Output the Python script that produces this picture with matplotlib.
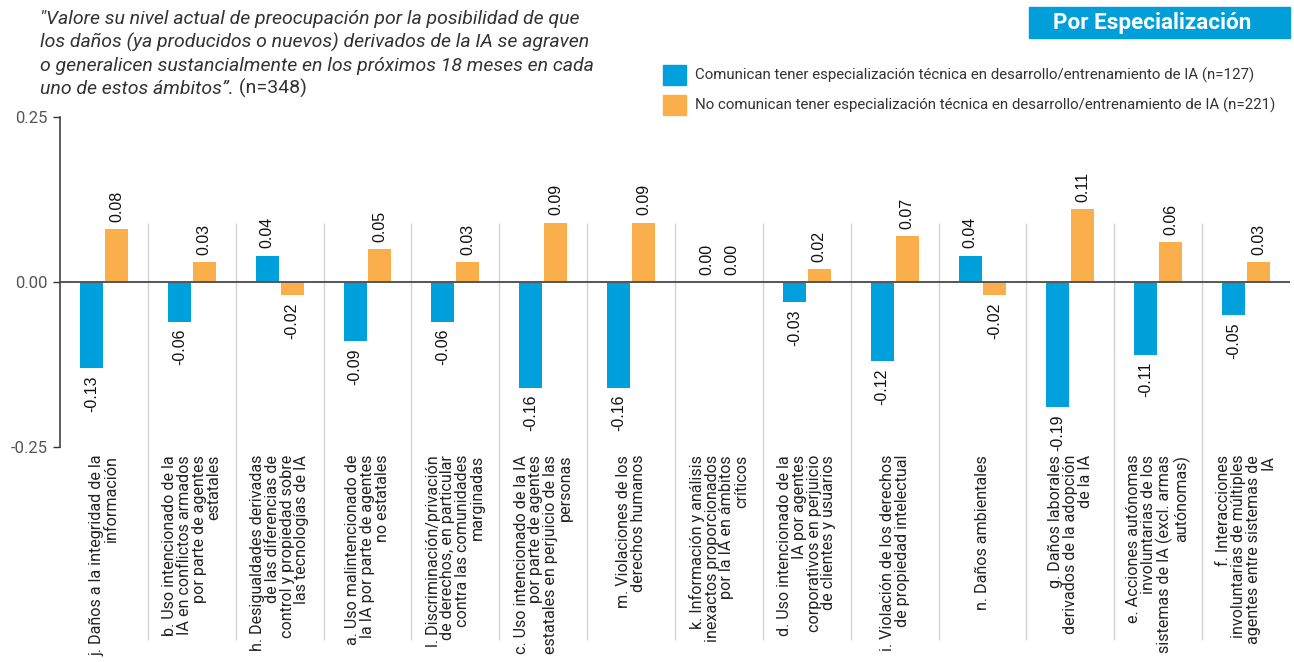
import matplotlib
matplotlib.use("Agg")
import matplotlib.pyplot as plt
import numpy as np

# ---- data ----
categories = [
    "j. Daños a la integridad de la\ninformación",
    "b. Uso intencionado de la\nIA en conflictos armados\npor parte de agentes\nestatales",
    "h. Desigualdades derivadas\nde las diferencias de\ncontrol y propiedad sobre\nlas tecnologías de IA",
    "a. Uso malintencionado de\nla IA por parte de agentes\nno estatales",
    "l. Discriminación/privación\nde derechos, en particular\ncontra las comunidades\nmarginadas",
    "c. Uso intencionado de la IA\npor parte de agentes\nestatales en perjuicio de las\npersonas",
    "m. Violaciones de los\nderechos humanos",
    "k. Información y análisis\ninexactos proporcionados\npor la IA en ámbitos\ncríticos",
    "d. Uso intencionado de la\nIA por agentes\ncorporativos en perjuicio\nde clientes y usuarios",
    "i. Violación de los derechos\nde propiedad intelectual",
    "n. Daños ambientales",
    "g. Daños laborales\nderivados de la adopción\nde la IA",
    "e. Acciones autónomas\ninvoluntarias de los\nsistemas de IA (excl. armas\nautónomas)",
    "f. Interacciones\ninvoluntarias de múltiples\nagentes entre sistemas de\nIA",
]
especialistas = [-0.13, -0.06, 0.04, -0.09, -0.06, -0.16, -0.16, 0.00, -0.03, -0.12, 0.04, -0.19, -0.11, -0.05]
no_especialistas = [0.08, 0.03, -0.02, 0.05, 0.03, 0.09, 0.09, 0.00, 0.02, 0.07, -0.02, 0.11, 0.06, 0.03]
series_names = [
    "Comunican tener especialización técnica en desarrollo/entrenamiento de IA (n=127)",
    "No comunican tener especialización técnica en desarrollo/entrenamiento de IA (n=221)",
]
yticks = [-0.25, 0.0, 0.25]
ytick_labels = ["-0.25", "0.00", "0.25"]

title_lines = [
    "\"Valore su nivel actual de preocupación por la posibilidad de que",
    "los daños (ya producidos o nuevos) derivados de la IA se agraven",
    "o generalicen sustancialmente en los próximos 18 meses en cada",
]
title_last_italic = "uno de estos ámbitos”."
title_last_plain = " (n=348)"
badge_text = "Por Especialización"

# ---- style ----
BLUE = "#00A0DC"
ORANGE = "#FBAF4C"
TEXT = "#333333"
W, H = 1294, 662

plt.rcParams["font.family"] = ["Roboto", "DejaVu Sans"]

fig = plt.figure(figsize=(W / 100, H / 100), dpi=100)
ax_left, ax_right = 60 / W, 1290 / W
ax_top_px, ax_bot_px = 117, 447
ax = fig.add_axes([ax_left, 1 - ax_bot_px / H, ax_right - ax_left, (ax_bot_px - ax_top_px) / H])

n = len(categories)
x = np.arange(n)
bw = 0.262
off = 0.142

ax.set_xlim(-0.5, n - 0.5)
ax.set_ylim(-0.25, 0.25)

# group separators reaching down into the label area
sep_bottom = -0.25 - (640 - ax_bot_px) / (ax_bot_px - ax_top_px) * 0.5
ax.vlines(x[:-1] + 0.5, sep_bottom, 0.09, colors="#d4d4d4", lw=1, clip_on=False, zorder=1)

ax.bar(x - off, especialistas, bw, color=BLUE, zorder=3, label=series_names[0])
ax.bar(x + off, no_especialistas, bw, color=ORANGE, zorder=3, label=series_names[1])
ax.axhline(0, color="#555555", lw=1.4, zorder=4)

# value labels
pad = 0.011
val_font = dict(fontsize=11.5, family=["Liberation Sans", "DejaVu Sans"], color="#111111")
for xs, vals in ((x - off, especialistas), (x + off, no_especialistas)):
    for xi, v in zip(xs, vals):
        if v >= 0:
            ax.text(xi, v + pad, f"{v:.2f}", rotation=90, ha="center", va="bottom", **val_font)
        else:
            ax.text(xi, v - pad, f"{v:.2f}", rotation=90, ha="center", va="top", **val_font)

# category labels
for xi, lab in zip(x, categories):
    ax.text(xi, -0.262, lab, rotation=90, ha="center", va="top", multialignment="right",
            fontsize=11.6, color="#222222", linespacing=0.98, clip_on=False)

# axes cosmetics
for s in ("top", "right", "bottom"):
    ax.spines[s].set_visible(False)
ax.spines["left"].set_color("#333333")
ax.spines["left"].set_linewidth(1.1)
ax.set_xticks([])
ax.set_yticks(yticks)
ax.set_yticklabels(ytick_labels)
ax.tick_params(axis="y", length=5, width=1, color="#333333", labelsize=12, labelcolor="#555555", pad=4)

# title block
title_fs = 14.0
baselines = [24, 47.3, 70.6, 94]
for line, yb in zip(title_lines, baselines):
    fig.text(40 / W, 1 - yb / H, line, ha="left", va="baseline", fontsize=title_fs,
             style="italic", color=TEXT)
last_y = 1 - baselines[3] / H
t_it = fig.text(40 / W, last_y, title_last_italic, ha="left", va="baseline", fontsize=title_fs,
                style="italic", color=TEXT)
fig.canvas.draw()
bb = t_it.get_window_extent(renderer=fig.canvas.get_renderer())
fig.text(bb.x1 / W, last_y, title_last_plain, ha="left", va="baseline", fontsize=title_fs, color=TEXT)

# badge
fig.patches.append(plt.Rectangle((1029 / W, 1 - 38 / H), (1290 - 1029) / W, 31 / H,
                                 transform=fig.transFigure, color="#009FDA", zorder=0))
fig.text(1152 / W, 1 - 23 / H, badge_text, ha="center", va="center",
         fontsize=16.2, weight="bold", color="white")

# legend
for i, (name, col) in enumerate(zip(series_names, (BLUE, ORANGE))):
    yc = 75 + i * 30
    fig.patches.append(plt.Rectangle((663 / W, 1 - (yc + 10) / H), 23 / W, 20 / H,
                                     transform=fig.transFigure, color=col))
    fig.text(695 / W, 1 - yc / H, name, ha="left", va="center", fontsize=10.8, color=TEXT)

fig.savefig("out.png", dpi=100)
